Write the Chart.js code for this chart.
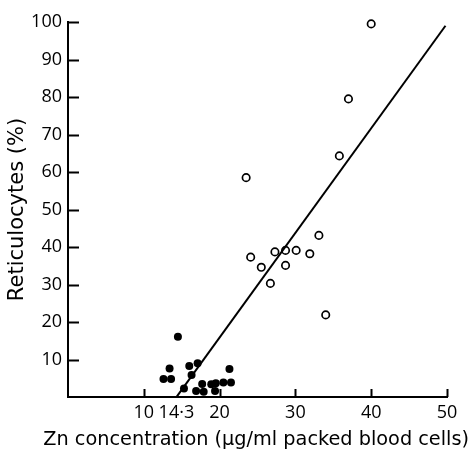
<!DOCTYPE html>
<html>
<head>
<meta charset="utf-8">
<title>Reticulocytes vs Zn concentration</title>
<script src="https://cdn.jsdelivr.net/npm/chart.js@4/dist/chart.umd.min.js"></script>
<style>
  html, body { margin: 0; padding: 0; background: #fff; }
  #wrap { width: 469px; height: 453px; position: relative; }
</style>
</head>
<body>
<div id="wrap"><canvas id="chart"></canvas></div>
<script>
// ---------------------------------------------------------------------------
// Data
// ---------------------------------------------------------------------------

// open circles
var openZn = [40.0, 37.0, 35.8, 23.5, 33.1, 24.1, 27.3, 28.7, 30.1, 31.9, 25.5, 28.7, 26.7, 34.0];
var openRetic = [99.5, 79.5, 64.3, 58.5, 43.1, 37.3, 38.7, 39.1, 39.1, 38.2, 34.6, 35.1, 30.3, 21.9];

// filled circles
var filledZn = [14.5, 13.4, 12.6, 13.6, 16.0, 17.1, 16.3, 15.3, 16.9, 17.7, 18.9, 17.9, 19.5, 20.5, 21.5, 21.3, 19.4];
var filledRetic = [16.1, 7.6, 4.8, 4.8, 8.3, 9.0, 5.9, 2.3, 1.6, 3.5, 3.4, 1.4, 3.7, 3.9, 3.9, 7.5, 1.6];

// regression line end points
var fitZn = [14.3, 49.8];
var fitRetic = [0, 99];

var xTicks = [10, 14.3, 20, 30, 40, 50];
var xTickMarks = [10, 20, 30, 40, 50];
var yTicks = [10, 20, 30, 40, 50, 60, 70, 80, 90, 100];

function toPoints(xs, ys) {
  return xs.map(function (x, i) { return { x: x, y: ys[i] }; });
}

// ---------------------------------------------------------------------------
// Inward tick marks (the figure draws them inside the axes)
// ---------------------------------------------------------------------------

var inwardTicks = {
  id: 'inwardTicks',
  afterDraw: function (chart) {
    var ctx = chart.ctx;
    var xs = chart.scales.x;
    var ys = chart.scales.y;
    var area = chart.chartArea;
    ctx.save();
    ctx.strokeStyle = '#000';
    ctx.lineWidth = 2;
    ctx.beginPath();
    yTicks.forEach(function (v) {
      var py = Math.round(ys.getPixelForValue(v)) + 0.5;
      ctx.moveTo(area.left, py);
      ctx.lineTo(area.left + 11, py);
    });
    xTickMarks.forEach(function (v) {
      var px = Math.round(xs.getPixelForValue(v)) + 0.5;
      ctx.moveTo(px, area.bottom);
      ctx.lineTo(px, area.bottom - 8);
    });
    ctx.stroke();
    ctx.restore();
  },
};

// ---------------------------------------------------------------------------
// Chart
// ---------------------------------------------------------------------------

var tickFont = "'Open Sans', sans-serif";
var titleFont = "'DejaVu Sans', sans-serif";

new Chart(document.getElementById('chart'), {
  type: 'scatter',
  data: {
    datasets: [
      {
        label: 'fit',
        type: 'line',
        data: toPoints(fitZn, fitRetic),
        borderColor: '#000',
        borderWidth: 2,
        pointRadius: 0,
        fill: false,
        clip: false,
      },
      {
        label: 'open',
        data: toPoints(openZn, openRetic),
        backgroundColor: '#fff',
        borderColor: '#000',
        borderWidth: 1.7,
        pointRadius: 3.7,
        clip: false,
      },
      {
        label: 'filled',
        data: toPoints(filledZn, filledRetic),
        backgroundColor: '#000',
        borderColor: '#000',
        borderWidth: 0,
        pointRadius: 4,
        clip: false,
      },
    ],
  },
  options: {
    responsive: true,
    maintainAspectRatio: false,
    animation: false,
    events: [],
    layout: { padding: { top: 22, right: 0, left: 0, bottom: 0 } },
    plugins: {
      legend: { display: false },
      tooltip: { enabled: false },
      // x-axis caption: drawn as chart title so it can run past the axis ends
      title: {
        display: true,
        position: 'bottom',
        align: 'end',
        text: 'Zn concentration (\u03bcg/ml packed blood cells)',
        color: '#000',
        font: { family: titleFont, size: 19.3, weight: 'normal' },
        padding: { top: 1.4, bottom: 1.4 },
      },
    },
    scales: {
      x: {
        type: 'linear',
        min: 0,
        max: 50,
        afterFit: function (scale) { scale.height = 30; },
        afterBuildTicks: function (scale) {
          scale.ticks = xTicks.map(function (v) { return { value: v }; });
        },
        grid: { display: false, drawTicks: false },
        border: { display: true, color: '#000', width: 2 },
        ticks: {
          color: '#000',
          padding: 5,
          maxRotation: 0,
          autoSkip: false,
          font: { family: tickFont, size: 18 },
          callback: function (v) { return String(v).replace('.', '\u00b7'); },
        },
      },
      y: {
        type: 'linear',
        min: 0,
        max: 100,
        afterFit: function (scale) { scale.width = 68; },
        afterBuildTicks: function (scale) {
          scale.ticks = yTicks.map(function (v) { return { value: v }; });
        },
        grid: { display: false, drawTicks: false },
        border: { display: true, color: '#000', width: 2 },
        ticks: {
          color: '#000',
          padding: 6,
          autoSkip: false,
          font: { family: tickFont, size: 18 },
        },
        title: {
          display: true,
          text: 'Reticulocytes (%)',
          color: '#000',
          font: { family: titleFont, size: 21 },
          padding: { top: 5, bottom: 0 },
        },
      },
      // empty right-hand strip, keeps the x axis ending short of the edge
      spacer: {
        type: 'linear',
        position: 'right',
        min: 0,
        max: 1,
        afterFit: function (scale) { scale.width = 22; },
        grid: { display: false, drawTicks: false },
        border: { display: false },
        ticks: { display: false },
      },
    },
  },
  plugins: [inwardTicks],
});
</script>
</body>
</html>
